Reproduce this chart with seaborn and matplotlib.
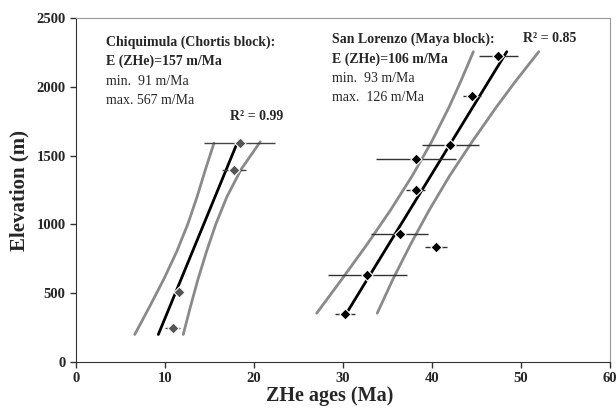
import numpy as np
import pandas as pd
import seaborn as sns
import matplotlib.pyplot as plt

# Chiquimula (Chortis block) samples
chiq_age = [10.85, 11.55, 17.75, 18.4]
chiq_elev = [250, 507, 1395, 1589]
chiq_err = [0.8, 0.5, 1.3, 4.0]

# San Lorenzo (Maya block) samples
sl_age = [30.2, 32.75, 40.45, 36.4, 38.15, 38.2, 42.05, 44.5, 47.45]
sl_elev = [352, 631, 833, 927, 1250, 1473, 1577, 1934, 2225]
sl_err = [1.1, 4.4, 1.2, 3.2, 1.1, 4.5, 3.2, 1.0, 2.2]

# regression lines and confidence curves
chiq_fit_age = [9.25, 18.1]
chiq_fit_elev = [200, 1590]
chiq_lo_age = [6.6, 8.25, 9.85, 11.3, 12.55, 13.6, 14.55, 15.5]
chiq_lo_elev = [200, 400, 600, 800, 1000, 1200, 1400, 1590]
chiq_hi_age = [12.05, 12.85, 13.7, 14.65, 15.7, 16.95, 18.55, 20.7]
chiq_hi_elev = [200, 400, 600, 800, 1000, 1200, 1400, 1600]

sl_fit_age = [30.4, 48.4]
sl_fit_elev = [355, 2255]
sl_lo_age = [27.05, 29.85, 32.65, 35.3, 37.75, 39.95, 41.9, 43.3, 44.65]
sl_lo_elev = [355, 600, 850, 1100, 1350, 1600, 1850, 2050, 2255]
sl_hi_age = [33.85, 35.6, 37.55, 39.65, 41.95, 44.5, 47.2, 49.5, 52.0]
sl_hi_elev = [355, 600, 850, 1100, 1350, 1600, 1850, 2050, 2255]

sns.set_style("ticks")
plt.rcParams['font.family'] = ['Liberation Serif', 'DejaVu Serif']
plt.rcParams['font.weight'] = 'bold'

fig = plt.figure(figsize=(6.16, 4.12), dpi=100)
ax = fig.add_axes([76/616, 1 - 362/412, (610 - 76)/616, (362 - 18)/412])

grey = '#8a8a8a'
for a, e in [(chiq_lo_age, chiq_lo_elev), (chiq_hi_age, chiq_hi_elev),
             (sl_lo_age, sl_lo_elev), (sl_hi_age, sl_hi_elev)]:
    sns.lineplot(x=a, y=e, sort=False, estimator=None, color=grey, lw=2, ax=ax)
for a, e in [(chiq_fit_age, chiq_fit_elev), (sl_fit_age, sl_fit_elev)]:
    sns.lineplot(x=a, y=e, sort=False, estimator=None, color='black', lw=2, ax=ax)

ax.errorbar(chiq_age, chiq_elev, xerr=chiq_err, fmt='none', ecolor='#444444', elinewidth=1, capsize=0, zorder=3)
ax.errorbar(sl_age, sl_elev, xerr=sl_err, fmt='none', ecolor='#333333', elinewidth=1, capsize=0, zorder=3)

sns.scatterplot(x=chiq_age, y=chiq_elev, marker='D', s=32, color='#555555',
                edgecolor='white', linewidth=0.8, zorder=4, ax=ax)
sns.scatterplot(x=sl_age, y=sl_elev, marker='D', s=32, color='black',
                edgecolor='white', linewidth=0.8, zorder=4, ax=ax)

ax.set_xlim(0, 60)
ax.set_ylim(0, 2500)
ax.set_xticks(range(0, 61, 10))
ax.set_yticks(range(0, 2501, 500))
ax.tick_params(direction='out', length=4, width=1, labelsize=10.5, color='#333333')
for lab in ax.get_xticklabels() + ax.get_yticklabels():
    lab.set_fontweight('bold')
for s in ['left', 'bottom']:
    ax.spines[s].set_color('#333333')
for s in ['top', 'right']:
    ax.spines[s].set_color('#999999')

ax.set_xlabel('ZHe ages (Ma)', fontsize=14.5, fontweight='bold')
ax.set_ylabel('Elevation (m)', fontsize=15, fontweight='bold')
ax.xaxis.set_label_coords(0.476, -0.099)
ax.yaxis.set_label_coords(-0.105, 0.5)
ax.xaxis.label.set_va('center')
ax.yaxis.label.set_va('center')

fs = 10
ax.text(3.4, 2327, 'Chiquimula (Chortis block):', fontsize=fs, fontweight='bold', va='center')
ax.text(3.4, 2183, 'E (ZHe)=157 m/Ma', fontsize=fs, fontweight='bold', va='center')
ax.text(3.4, 2042, 'min.  91 m/Ma', fontsize=fs, fontweight='normal', va='center')
ax.text(3.4, 1904, 'max. 567 m/Ma', fontsize=fs, fontweight='normal', va='center')
ax.text(17.3, 1783, 'R² = 0.99', fontsize=fs, fontweight='bold', va='center')

ax.text(28.8, 2347, 'San Lorenzo (Maya block):', fontsize=fs, fontweight='bold', va='center')
ax.text(28.8, 2201, 'E (ZHe)=106 m/Ma', fontsize=fs, fontweight='bold', va='center')
ax.text(28.8, 2058, 'min.  93 m/Ma', fontsize=fs, fontweight='normal', va='center')
ax.text(28.8, 1921, 'max.  126 m/Ma', fontsize=fs, fontweight='normal', va='center')
ax.text(50.2, 2354, 'R² = 0.85', fontsize=fs, fontweight='bold', va='center')

fig.savefig('out.png', dpi=100)
